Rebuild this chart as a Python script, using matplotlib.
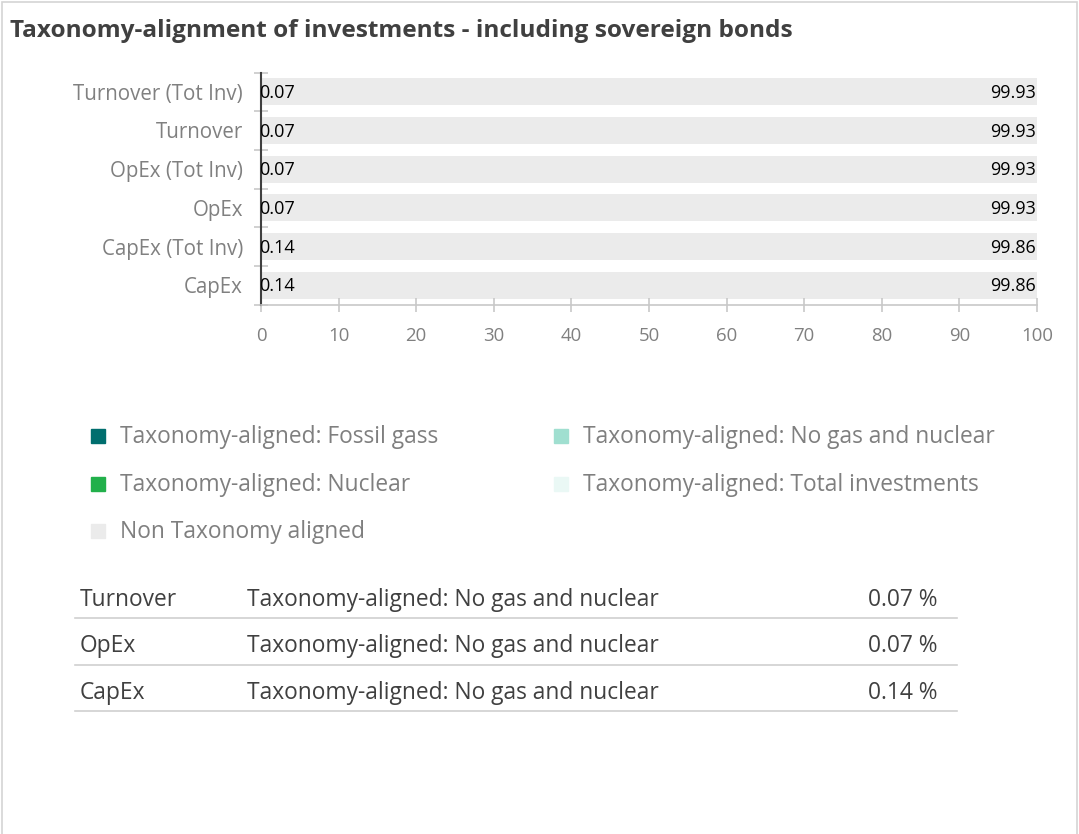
import matplotlib.pyplot as plt
from matplotlib.patches import Rectangle
from matplotlib.lines import Line2D
import numpy as np

plt.rcParams['font.family'] = ['Open Sans', 'DejaVu Sans']

categories = ['Turnover (Tot Inv)', 'Turnover', 'OpEx (Tot Inv)', 'OpEx', 'CapEx (Tot Inv)', 'CapEx']
series_names = ['Taxonomy-aligned: Fossil gass',
                'Taxonomy-aligned: Nuclear',
                'Taxonomy-aligned: No gas and nuclear',
                'Taxonomy-aligned: Total investments',
                'Non Taxonomy aligned']
fossil_gas = [0, 0, 0, 0, 0, 0]
nuclear = [0, 0, 0, 0, 0, 0]
no_gas_nuclear = [0, 0.07, 0, 0.07, 0, 0.14]
total_inv = [0.07, 0, 0.07, 0, 0.14, 0]
non_aligned = [99.93, 99.93, 99.93, 99.93, 99.86, 99.86]
colors = ['#006e6e', '#22b04b', '#a0dfd0', '#eaf8f5', '#ebebeb']

table_kpi = ['Turnover', 'OpEx', 'CapEx']
table_type = ['Taxonomy-aligned: No gas and nuclear'] * 3
table_val = [0.07, 0.07, 0.14]

W, H = 1079, 834
fig = plt.figure(figsize=(W / 100, H / 100), dpi=100)

def fx(px):
    return px / W

def fy(py):
    return 1 - py / H

# outer frame
fig.patches.append(Rectangle((fx(2), fy(840)), fx(1075), fy(2) - fy(840),
                             transform=fig.transFigure, fill=False,
                             edgecolor='#d4d4d4', lw=1.2))

fig.text(fx(10), fy(31), 'Taxonomy-alignment of investments - including sovereign bonds',
         fontsize=17.6, fontweight='bold', color='#404040', va='center', ha='left')

ax = fig.add_axes([fx(261), fy(304.5), fx(1037) - fx(261), fy(72.5) - fy(304.5)])
y = np.arange(len(categories))
left = np.zeros(len(categories))
for name, vals, c in zip(series_names, [fossil_gas, nuclear, no_gas_nuclear, total_inv, non_aligned], colors):
    vals = np.array(vals, dtype=float)
    ax.barh(y, vals, 0.7, left=left, color=c, label=name)
    for yi, v, l in zip(y, vals, left):
        if v == 0:
            continue
        if name == 'Non Taxonomy aligned':
            ax.text(l + v - 0.1, yi + 0.03, f'{v:.2f}', ha='right', va='center', fontsize=13, color='black')
        else:
            ax.text(l - 0.3, yi + 0.03, f'{v:.2f}', ha='left', va='center', fontsize=13, color='black')
    left += vals

ax.set_xlim(0, 100)
ax.set_ylim(len(categories) - 0.5, -0.5)
ax.set_xticks(np.arange(0, 101, 10))
ax.set_yticks(y, categories)
ax.set_yticks(np.arange(-0.5, len(categories), 1), minor=True)
for s in ['top', 'right']:
    ax.spines[s].set_visible(False)
ax.spines['bottom'].set_color('#c8c8c8')
ax.spines['bottom'].set_linewidth(1.2)
ax.spines['left'].set_color('#404040')
ax.spines['left'].set_linewidth(1.5)
ax.tick_params(axis='x', direction='inout', length=10, width=1.2, color='#c8c8c8',
               labelsize=13.4, labelcolor='#808080', pad=11)
ax.tick_params(axis='y', which='major', length=0, labelsize=14.8, labelcolor='#808080', pad=13)
ax.tick_params(axis='y', which='minor', direction='inout', length=10, width=1.2, color='#c8c8c8')

# legend
leg_pos = [(97, 436), (97, 484), (560, 436), (560, 484), (97, 531)]
for name, c, (lx, ly) in zip(series_names, colors, leg_pos):
    fig.patches.append(Rectangle((fx(lx - 6), fy(ly + 7)), fx(14), fy(ly - 7) - fy(ly + 7),
                                 transform=fig.transFigure, color=c))
    fig.text(fx(lx + 23), fy(ly + 1), name, fontsize=16.4, color='#7f7f7f', va='center', ha='left')

# summary table
for i, (k, t, v) in enumerate(zip(table_kpi, table_type, table_val)):
    ry = 600 + i * 46.5
    fig.text(fx(80), fy(ry), k, fontsize=16.4, color='#404040', va='center', ha='left')
    fig.text(fx(247), fy(ry), t, fontsize=16.4, color='#404040', va='center', ha='left')
    fig.text(fx(937), fy(ry), f'{v:.2f} %', fontsize=16.4, color='#404040', va='center', ha='right')
    fig.lines.append(Line2D([fx(75), fx(957)], [fy(ry + 18)] * 2, transform=fig.transFigure,
                            color='#d0d0d0', lw=1.2))

fig.savefig('out.png', dpi=100, facecolor='white')
